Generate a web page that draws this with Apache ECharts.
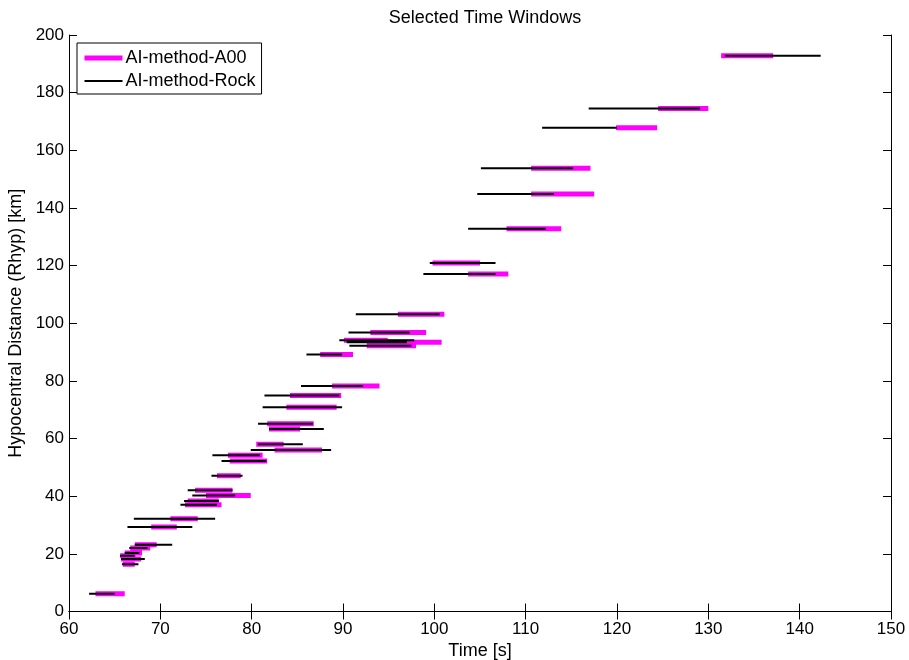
<!DOCTYPE html>
<html>
<head>
<meta charset="utf-8">
<script src="https://cdn.jsdelivr.net/npm/echarts@6/dist/echarts.min.js"></script>
<style>
html,body{margin:0;padding:0;background:#fff;}
#chart{width:909px;height:660px;}
</style>
</head>
<body>
<div id="chart"></div>
<script>
// Hypocentral distance of each station [km]
const distances = [6.2, 16.4, 18.2, 19.3, 20.3, 22.0, 23.2, 29.3, 32.2, 37.0,
  38.3, 40.2, 42.1, 47.1, 52.2, 54.2, 56.0, 58.0, 63.3, 65.1,
  70.9, 74.9, 78.2, 89.2, 92.2, 93.4, 94.1, 96.8, 103.1, 117.1,
  120.9, 132.8, 144.8, 153.8, 167.8, 174.5, 192.8];
// AI-method-A00 window start / end [s]
const a00Start = [62.9, 65.9, 65.7, 65.6, 66.1, 66.7, 67.2, 69.0, 71.1, 72.7,
  73.0, 75.0, 73.8, 76.2, 77.6, 77.4, 82.5, 80.5, 81.9, 81.7,
  83.8, 84.2, 88.8, 87.5, 92.6, 92.6, 90.1, 93.0, 96.0, 103.7,
  99.8, 107.9, 110.6, 110.6, 119.9, 124.5, 131.4];
const a00End = [66.1, 67.2, 67.9, 67.3, 68.0, 68.9, 69.6, 71.8, 74.1, 76.7,
  76.4, 79.9, 77.9, 78.8, 81.7, 81.2, 87.7, 83.5, 85.3, 86.8,
  89.3, 89.8, 94.0, 91.1, 98.0, 100.8, 94.9, 99.1, 101.1, 108.1,
  105.0, 113.9, 117.5, 117.1, 124.4, 130.0, 137.1];
// AI-method-Rock window start / end [s]
const rockStart = [62.2, 65.8, 65.7, 65.6, 66.1, 66.6, 67.2, 66.4, 67.1, 72.2,
  72.6, 73.5, 73.0, 75.6, 76.7, 75.7, 79.9, 80.7, 81.9, 80.7,
  81.2, 81.4, 85.4, 86.0, 90.7, 90.4, 89.6, 90.6, 91.4, 98.8,
  99.5, 103.7, 104.7, 105.1, 111.8, 116.9, 131.8];
const rockEnd = [65.0, 67.6, 68.3, 67.2, 67.7, 68.6, 71.3, 73.5, 76.0, 76.2,
  76.4, 78.2, 77.9, 79.0, 81.6, 80.9, 88.7, 85.6, 87.9, 86.7,
  89.9, 89.6, 92.2, 89.9, 97.5, 97.0, 97.8, 97.3, 100.6, 106.7,
  106.7, 112.2, 113.1, 115.2, 120.0, 129.1, 142.3];

const xTicks = [60, 150, 10];
const yTicks = [0, 200, 20];

function segments(starts, ends) {
  const out = [];
  for (let i = 0; i < distances.length; i++) {
    out.push([starts[i], distances[i]]);
    out.push([ends[i], distances[i]]);
    out.push([ends[i], '-']);
  }
  return out;
}

const font = 'Arial, "Liberation Sans", sans-serif';
const chart = echarts.init(document.getElementById('chart'));
const axisCommon = {
  axisLine: {show: true, lineStyle: {color: '#000', width: 1}},
  axisTick: {show: true, inside: true, length: 8, lineStyle: {color: '#000', width: 1}},
  splitLine: {show: false}
};
chart.setOption({
  animation: false,
  backgroundColor: '#fff',
  title: {
    text: 'Selected Time Windows',
    left: 480, top: 4, textAlign: 'center',
    textStyle: {fontFamily: font, fontSize: 18, fontWeight: 'normal', color: '#000'}
  },
  grid: {left: 69, right: 18, top: 35, bottom: 48.5, containLabel: false, outerBoundsMode: 'none'},
  legend: {
    left: 77, top: 43, orient: 'vertical',
    padding: [6, 6, 4, 5], itemGap: 5,
    backgroundColor: '#fff', borderColor: '#000', borderWidth: 1,
    itemWidth: 38, itemHeight: 20,
    itemStyle: {opacity: 0},
    textStyle: {fontFamily: font, fontSize: 18, color: '#000', padding: [0, 0, 0, -2]},
    data: [
      {name: 'AI-method-A00', lineStyle: {width: 5, color: '#ff00ff'}},
      {name: 'AI-method-Rock', lineStyle: {width: 2, color: '#000'}}
    ]
  },
  xAxis: [
    Object.assign({
      type: 'value', min: xTicks[0], max: xTicks[1], interval: xTicks[2], position: 'bottom',
      name: 'Time [s]', nameLocation: 'middle', nameGap: 26,
      nameTextStyle: {fontFamily: font, fontSize: 18, color: '#000'},
      axisLabel: {fontFamily: font, fontSize: 17, color: '#000', margin: 9}
    }, axisCommon),
    Object.assign({
      type: 'value', min: xTicks[0], max: xTicks[1], interval: xTicks[2], position: 'top',
      axisLabel: {show: false}
    }, axisCommon)
  ],
  yAxis: [
    Object.assign({
      type: 'value', min: yTicks[0], max: yTicks[1], interval: yTicks[2], position: 'left',
      name: 'Hypocentral Distance (Rhyp) [km]', nameLocation: 'middle', nameGap: 40,
      nameTextStyle: {fontFamily: font, fontSize: 18, color: '#000'},
      axisLabel: {fontFamily: font, fontSize: 17, color: '#000', margin: 5}
    }, axisCommon),
    Object.assign({
      type: 'value', min: yTicks[0], max: yTicks[1], interval: yTicks[2], position: 'right',
      axisLabel: {show: false}
    }, axisCommon)
  ],
  series: [
    {
      name: 'AI-method-A00', type: 'line', xAxisIndex: 0, yAxisIndex: 0,
      data: segments(a00Start, a00End), symbol: 'none', showSymbol: false,
      connectNulls: false, color: '#ff00ff',
      lineStyle: {color: '#ff00ff', width: 5, cap: 'butt'}
    },
    {
      name: 'AI-method-Rock', type: 'line', xAxisIndex: 0, yAxisIndex: 0,
      data: segments(rockStart, rockEnd), symbol: 'none', showSymbol: false,
      connectNulls: false, color: '#000',
      lineStyle: {color: '#000', width: 2, cap: 'butt'}
    }
  ]
});
</script>
</body>
</html>
